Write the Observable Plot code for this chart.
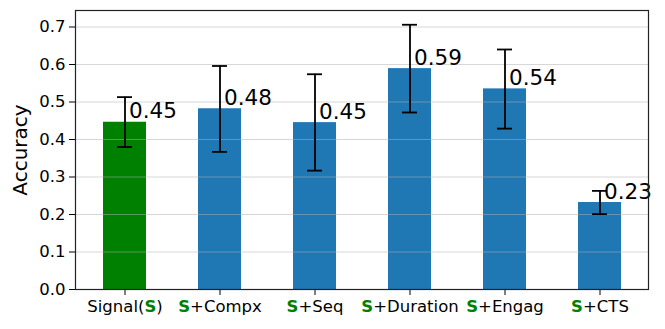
<!DOCTYPE html>
<html>
<head>
<meta charset="utf-8">
<script src="https://cdn.jsdelivr.net/npm/d3@7"></script>
<script src="https://cdn.jsdelivr.net/npm/@observablehq/plot@0.6"></script>
<style>
  html, body { margin: 0; padding: 0; background: #fff; }
  #chart svg { display: block; font-family: "DejaVu Sans", sans-serif; }
</style>
</head>
<body>
<div id="chart"></div>
<script>
const categories = ["Signal(S)", "S+Compx", "S+Seq", "S+Duration", "S+Engag", "S+CTS"];
const accuracy = [0.446, 0.482, 0.445, 0.589, 0.535, 0.232];
const errLow = [0.380, 0.367, 0.317, 0.472, 0.429, 0.201];
const errHigh = [0.513, 0.596, 0.574, 0.706, 0.640, 0.263];
const valueLabels = ["0.45", "0.48", "0.45", "0.59", "0.54", "0.23"];
const barColors = ["#008000", "#1f77b4", "#1f77b4", "#1f77b4", "#1f77b4", "#1f77b4"];
const yTicks = [0.0, 0.1, 0.2, 0.3, 0.4, 0.5, 0.6, 0.7];

const data = categories.map((c, i) => ({
  cat: c, acc: accuracy[i], lo: errLow[i], hi: errHigh[i], label: valueLabels[i], color: barColors[i]
}));

const plot = Plot.plot({
  width: 665,
  height: 329,
  marginLeft: 75,
  marginRight: 17,
  marginTop: 10,
  marginBottom: 40,
  style: { fontFamily: "DejaVu Sans, sans-serif", fontSize: "16px", color: "#000", background: "#fff" },
  x: { domain: categories, paddingInner: 0.55, paddingOuter: 0.2725, align: 0.5, label: null },
  y: { domain: [0, 0.744], label: null },
  marks: [
    Plot.barY(data, { x: "cat", y: "acc", fill: "color" }),
    Plot.gridY(yTicks, { stroke: "#b0b0b0", strokeOpacity: 0.5, strokeWidth: 1 }),
    Plot.ruleX(data, { x: "cat", y1: "lo", y2: "hi", stroke: "#000", strokeWidth: 1.8 }),
    Plot.tickY(data, { x: "cat", y: "hi", stroke: "#000", strokeWidth: 1.8, insetLeft: 14, insetRight: 14 }),
    Plot.tickY(data, { x: "cat", y: "lo", stroke: "#000", strokeWidth: 1.8, insetLeft: 14, insetRight: 14 }),
    Plot.text(data, { x: "cat", y: "acc", text: "label", textAnchor: "start", lineAnchor: "bottom", dx: 4, dy: -4, fontSize: 21.5, fill: "#000" }),
    Plot.axisY(yTicks, { tickFormat: d => d.toFixed(1), tickSize: 6, tickPadding: 4, fontSize: 16.5, label: null }),
    Plot.axisX({ tickSize: 6, tickPadding: 5, fontSize: 16.5, label: null }),
    Plot.text(["Accuracy"], { frameAnchor: "left", textAnchor: "middle", dx: -55, rotate: -90, fontSize: 20, fill: "#000" }),
    Plot.frame({ stroke: "#222", strokeWidth: 1.2 })
  ]
});

// Colour the "S" in the x tick labels green and bold (keeps real text)
d3.select(plot).selectAll("g[aria-label='x-axis tick label'] text").each(function () {
  const t = d3.select(this);
  const s = t.text();
  t.text(null);
  let parts;
  if (s.startsWith("Signal(S)")) parts = [["Signal(", false], ["S", true], [")", false]];
  else parts = [["S", true], [s.slice(1), false]];
  for (const [txt, green] of parts) {
    const sp = t.append("tspan").text(txt);
    if (green) sp.attr("fill", "#008000").attr("font-weight", "bold");
  }
});

document.getElementById("chart").appendChild(plot);
</script>
</body>
</html>
